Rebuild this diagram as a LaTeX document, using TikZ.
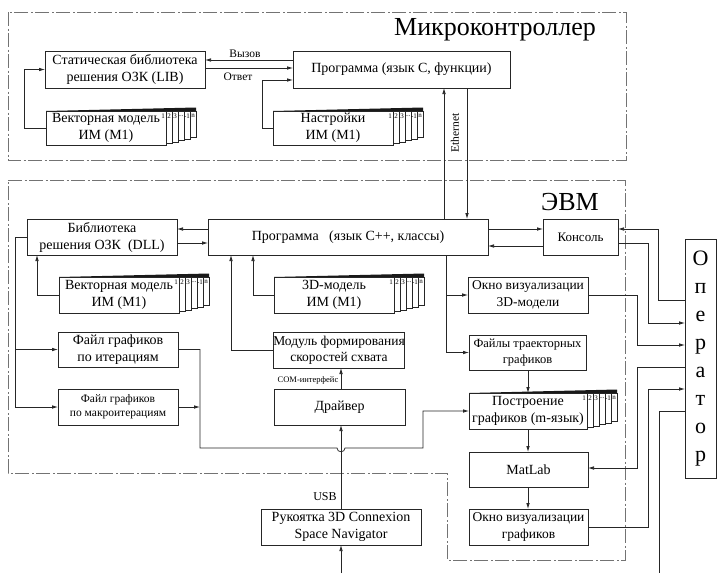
\documentclass[tikz,border=0pt]{standalone}
\usepackage{fontspec}
\setmainfont{Liberation Serif}
\usetikzlibrary{arrows.meta}

% stack of numbered sheets behind a box: #1 left x, #2 right x, #3 top y, #4 bottom y
\newcommand{\pagestack}[4]{%
  \fill[black!90] (#1,#3) -- (#2+30,#3-3.5) -- (#2+30,#3) -- cycle;
  \foreach \k/\lab in {1/2,2/3,3/{...},4/{-1},5/n}{
    \draw[link] (#2+6*\k-6,#3) rectangle (#2+6*\k,#4-1.5*\k);
    \node[pagelab] (pl) at (#2+6*\k-3,#3+5) {\lab};
  }
  \node[pagelab] (pl) at (#2-3,#3+5) {1};
}

\begin{document}
\begin{tikzpicture}[x=1pt,y=-1pt,
  box/.style={draw=black!85, line width=0.75pt, align=center, inner sep=0pt,
    outer sep=0pt, font=\fontsize{14}{17}\selectfont},
  link/.style={draw=black!85, line width=0.75pt},
  arr/.style={link, -{Latex[length=6pt,width=3.6pt]}},
  frame/.style={draw=black!55, line width=0.7pt,
    dash pattern=on 14pt off 2.5pt on 2pt off 2.5pt},
  title/.style={font=\fontsize{26}{30}\selectfont, inner sep=0pt},
  tag/.style={font=\fontsize{11.5}{13}\selectfont, inner sep=0pt},
  pagelab/.style={font=\fontsize{7}{8}\selectfont, inner sep=0pt},
]
\useasboundingbox (0,0) rectangle (717,573);

% dash-dot frames of the two devices
\draw[frame] (8,12) rectangle (626,160);
\draw[frame] (8,180) -- (625,180) -- (625,560) -- (447,560) -- (447,473)
  -- (8,473) -- cycle;
\node[title] (tmc) at (495,30) {Микроконтроллер};
\node[title] (tpc) at (570,202) {ЭВМ};

% microcontroller
\node[box, minimum width=160pt, minimum height=37pt] (lib) at (125,69.5)
  {Статическая библиотека\\решения ОЗК (LIB)};
\node[box, minimum width=217pt, minimum height=37pt] (progc) at (401.5,69.5)
  {Программа (язык С, функции)};
\pagestack{46}{166}{111}{145}
\node[box, minimum width=120pt, minimum height=34pt] (vecA) at (106,128)
  {Векторная модель\\ИМ (М1)};
\pagestack{273}{393}{111}{145}
\node[box, minimum width=120pt, minimum height=34pt] (setA) at (333,128)
  {Настройки\\ИМ (М1)};

% computer
\node[box, minimum width=150pt, minimum height=36pt] (dll) at (102,237)
  {Библиотека\\решения ОЗК~~(DLL)};
\node[box, minimum width=280pt, minimum height=36pt] (prog) at (348,237)
  {Программа~~~(язык С++, классы)};
\node[box, minimum width=75pt, minimum height=36pt,
  font=\fontsize{13}{16}\selectfont] (cons) at (580.5,237) {Консоль};
\pagestack{59}{179}{277}{313}
\node[box, minimum width=120pt, minimum height=36pt] (vecB) at (119,295)
  {Векторная модель\\ИМ (М1)};
\pagestack{274}{394}{277}{313}
\node[box, minimum width=120pt, minimum height=36pt] (m3d) at (334,295)
  {3D-модель\\ИМ (М1)};
\node[box, minimum width=130pt, minimum height=36pt,
  font=\fontsize{13.5}{16.5}\selectfont] (mod) at (339,350)
  {Модуль формирования\\скоростей схвата};
\node[box, minimum width=131pt, minimum height=36pt] (drv) at (339.5,407)
  {Драйвер};
\node[box, minimum width=120pt, minimum height=35pt] (fit) at (118,349.5)
  {Файл графиков\\по итерациям};
\node[box, minimum width=120pt, minimum height=36pt,
  font=\fontsize{11.5}{14}\selectfont] (fmac) at (118,407)
  {Файл графиков\\по макроитерациям};
\node[box, minimum width=120pt, minimum height=36pt,
  font=\fontsize{13.5}{16.5}\selectfont] (win3d) at (528,295)
  {Окно визуализации\\3D-модели};
\node[box, minimum width=117pt, minimum height=35pt,
  font=\fontsize{12.5}{15.5}\selectfont] (ftraj) at (527.5,352.5)
  {Файлы траекторных\\графиков};
\pagestack{469}{587}{393}{429}
\node[box, minimum width=118pt, minimum height=36pt] (plot) at (528,411)
  {Построение\\графиков (m-язык)};
\node[box, minimum width=119pt, minimum height=35pt] (mat) at (528.5,469.5)
  {MatLab};
\node[box, minimum width=119pt, minimum height=36pt,
  font=\fontsize{13.5}{16.5}\selectfont] (wgr) at (528.5,527)
  {Окно визуализации\\графиков};
\node[box, minimum width=160pt, minimum height=36pt] (joy) at (341,527)
  {Рукоятка 3D Connexion\\Space Navigator};
\node[box, minimum width=31pt, minimum height=239pt,
  font=\fontsize{22}{28}\selectfont] (oper) at (700.5,359)
  {О\\п\\е\\р\\а\\т\\о\\р};

% microcontroller links
\draw[arr] (progc.west |- 0,60) -- (lib.east |- 0,60);
\draw[arr] (lib.east |- 0,68) -- (progc.west |- 0,68);
\node[tag] (lcall) at (245,54) {Вызов};
\node[tag] (lans) at (238,77) {Ответ};
\draw[arr] (vecA.west) -- ++(-22,0) |- (lib.west);
\draw[arr] (setA.west) -- ++(-11,0) |- (progc.west |- 0,80);

% Ethernet
\draw[arr] (prog.north -| 444,0) -- (progc.south -| 444,0);
\draw[arr] (progc.south -| 467,0) -- (prog.north -| 467,0);
\node[tag, rotate=90] (leth) at (455,133) {Ethernet};

% computer links
\draw[arr] (prog.west |- 0,229) -- (dll.east |- 0,229);
\draw[arr] (dll.east |- 0,243) -- (prog.west |- 0,243);
\draw[arr] (prog.east |- 0,229) -- (cons.west |- 0,229);
\draw[arr] (cons.west |- 0,246) -- (prog.east |- 0,246);
\draw[arr] (vecB.west) -| (dll.south -| 37,0);
\coordinate (busL) at (15,237);
\draw[arr] (dll.west) -- (busL) |- (fmac.west);
\draw[arr] (busL |- fit.west) -- (fit.west);
\draw[arr] (m3d.west) -| (prog.south -| 253,0);
\draw[arr] (mod.west) -| (prog.south -| 231,0);
\draw[arr] (drv.north -| 341,0) -- (mod.south -| 341,0);
\node[font=\fontsize{8.5}{10}\selectfont, inner sep=0pt] (lcom) at (308,380)
  {COM-интерфейс};
\draw[arr] (joy.north -| 341,0) -- (drv.south -| 341,0);
\node[tag, font=\fontsize{12}{14}\selectfont] (lusb) at (325,497) {USB};
\coordinate (joyIn) at (341,573);
\draw[arr] (joyIn) -- (joy.south -| joyIn);

% plot files route to the plotting scripts, hopping over the USB line
\draw[arr] (fit.east) -- (200,349.5) -- (200,448) -- (337,448)
  .. controls (337,453) and (345,453) .. (345,448) -- (423,448) |- (plot.west);
\draw[arr] (fmac.east) -- (fmac.east -| 200,0);

\coordinate (busR) at (446,295);
\draw[arr] (prog.south -| busR) |- (ftraj.west);
\draw[arr] (busR) -- (win3d.west);
\draw[arr] (ftraj.south -| 528,0) -- (plot.north -| 528,0);
\draw[arr] (plot.south -| 528,0) -- (mat.north -| 528,0);
\draw[arr] (mat.south -| 528,0) -- (wgr.north -| 528,0);

% operator links
\draw[arr] (oper.west |- 0,300) -- ++(-27,0) |- (cons.east |- 0,229);
\draw[arr] (cons.east |- 0,243) -- ++(30,0) |- (oper.west |- 0,323);
\draw[arr] (win3d.east) -- ++(49,0) |- (oper.west |- 0,345);
\draw[arr] (oper.west |- 0,367) -- ++(-48,0) |- (mat.east |- 0,468);
\draw[arr] (wgr.east) -- ++(60,0) |- (oper.west |- 0,389);
\coordinate (operOut) at (659,573);
\draw[link] (oper.west |- 0,411) -| (operOut);
\end{tikzpicture}
\end{document}
